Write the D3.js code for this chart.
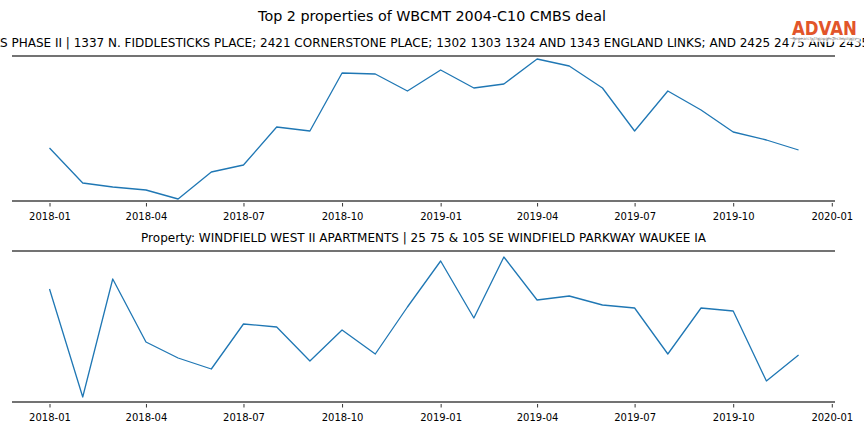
<!DOCTYPE html>
<html>
<head>
<meta charset="utf-8">
<script src="https://cdn.jsdelivr.net/npm/d3@7"></script>
<style>
  html, body { margin: 0; padding: 0; background: #fff; }
  svg { display: block; }
  text { font-family: "DejaVu Sans", sans-serif; }
</style>
</head>
<body>
<svg id="chart" width="864" height="432"></svg>
<script>
// ---- data ----
const months = ["2018-01","2018-02","2018-03","2018-04","2018-05","2018-06","2018-07","2018-08","2018-09","2018-10","2018-11","2018-12",
                "2019-01","2019-02","2019-03","2019-04","2019-05","2019-06","2019-07","2019-08","2019-09","2019-10","2019-11","2019-12"];
const property1Values = [53, 18, 14, 11, 2, 29, 36, 74, 70, 128, 127, 110, 131, 113, 117, 142, 135, 113, 70, 110, 91, 69, 61, 51];
const property2Values = [113, 5, 123, 60, 44, 33, 78, 75, 41, 72, 48, 95, 141, 84, 145, 102, 106, 97, 94, 48, 94, 91, 21, 47];
const tickLabels = ["2018-01","2018-04","2018-07","2018-10","2019-01","2019-04","2019-07","2019-10","2020-01"];
const chartTitle = "Top 2 properties of WBCMT 2004-C10 CMBS deal";
const property1Title = "Property: THE LINKS AT FIDDLESTICKS PHASE II | 1337 N. FIDDLESTICKS PLACE; 2421 CORNERSTONE PLACE; 1302 1303 1324 AND 1343 ENGLAND LINKS; AND 2425 2475 AND 2435 CORNERSTONE PLACE FORT MYERS FL";
const property1VisibleStart = "S PHASE II";
const property2Title = "Property: WINDFIELD WEST II APARTMENTS | 25 75 & 105 SE WINDFIELD PARKWAY WAUKEE IA";
const yDomain1 = [0, 145];
const yDomain2 = [0, 151];

// ---- drawing ----
const svg = d3.select("#chart");
const parse = d3.timeParse("%Y-%m");
const x = d3.scaleTime()
  .domain([new Date(2017, 10, 27), new Date(2020, 0, 4)])
  .range([12, 835]);

const lineColor = "#1f77b4";
const spineColor = "#444444";

svg.append("text")
  .attr("x", 432).attr("y", 21)
  .attr("text-anchor", "middle")
  .attr("font-size", 14.3)
  .attr("fill", "#000")
  .text(chartTitle);

function panel(values, yDomain, top, bottom, title, visibleStart) {
  const y = d3.scaleLinear().domain(yDomain).range([bottom, top]);
  const g = svg.append("g");

  // title
  const t = g.append("text")
    .attr("y", top - 9)
    .attr("font-size", 12)
    .attr("fill", "#000")
    .text(title);
  if (visibleStart) {
    const idx = title.indexOf(visibleStart);
    const prefixW = t.node().getSubStringLength(0, idx);
    t.attr("x", 0 - prefixW).attr("text-anchor", "start");
  } else {
    t.attr("x", 423.5).attr("text-anchor", "middle");
  }

  // line
  const data = months.map((m, i) => ({ d: parse(m), v: values[i] }));
  g.append("path")
    .datum(data)
    .attr("fill", "none")
    .attr("stroke", lineColor)
    .attr("stroke-width", 1.3)
    .attr("stroke-linejoin", "round")
    .attr("d", d3.line().x(p => x(p.d)).y(p => y(p.v)));

  // spines
  g.append("line").attr("x1", 12).attr("x2", 835).attr("y1", top).attr("y2", top)
    .attr("stroke", spineColor).attr("stroke-width", 1.6);

  // x axis
  const ax = g.append("g").attr("transform", `translate(0,${bottom})`)
    .call(d3.axisBottom(x)
      .tickValues(tickLabels.map(parse))
      .tickFormat(d3.timeFormat("%Y-%m"))
      .tickSize(3.5)
      .tickPadding(8)
      .tickSizeOuter(0));
  ax.select(".domain").remove();
  ax.selectAll(".tick line").attr("stroke", "#000").attr("stroke-width", 0.8).attr("transform", "translate(0,2)");
  ax.selectAll(".tick text").attr("font-size", 10).attr("fill", "#000")
    .attr("font-family", "'DejaVu Sans', sans-serif");
  g.append("line").attr("x1", 12).attr("x2", 835).attr("y1", bottom).attr("y2", bottom)
    .attr("stroke", spineColor).attr("stroke-width", 1.6);
}

panel(property1Values, yDomain1, 56, 201, property1Title, property1VisibleStart);
panel(property2Values, yDomain2, 251, 402, property2Title, null);

// logo
const logo = svg.append("g");
logo.append("rect").attr("x", 790).attr("y", 16).attr("width", 70).attr("height", 26)
  .attr("fill", "#fff").attr("opacity", 0.75);
logo.append("text").attr("x", 824.5).attr("y", 34.5)
  .attr("text-anchor", "middle")
  .attr("font-family", "'Open Sans', 'Liberation Sans', sans-serif")
  .attr("font-size", 20).attr("font-weight", 600)
  .attr("fill", "#e2552a")
  .attr("textLength", 65).attr("lengthAdjust", "spacingAndGlyphs")
  .text("ADVAN");
logo.append("text").attr("x", 824.5).attr("y", 39.5)
  .attr("text-anchor", "middle")
  .attr("font-size", 4).attr("fill", "#888")
  .attr("textLength", 64).attr("lengthAdjust", "spacingAndGlyphs")
  .text("Research through Technology");
</script>
</body>
</html>
